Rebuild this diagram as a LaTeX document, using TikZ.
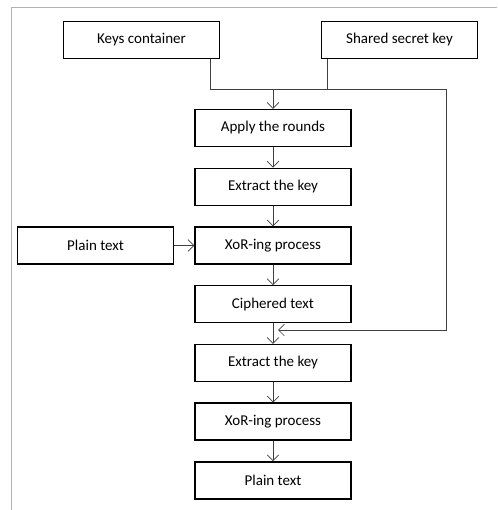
\documentclass[tikz,border=0pt]{standalone}
\usepackage{fontspec}
\setmainfont{Carlito}
\usepackage{tikz}
\usetikzlibrary{arrows.meta, positioning}
\usetikzlibrary{calc}

\begin{document}
\begin{tikzpicture}[>={Straight Barb[length=5pt,width=10pt]},
	blk/.style={draw, line width=1.2pt, minimum width=4.68cm, minimum height=1.11cm, inner sep=2pt, font=\fontsize{12.8}{15}\selectfont},
	lnk/.style={draw=black!75, line width=0.6pt}]
		\useasboundingbox (0,0) rectangle (14.91,-15.3);
		% page frame
		\draw[black!30, line width=0.7pt] (14.91,-0.21) -- (0.33,-0.21) -- (0.33,-15.3);

		\draw (4.245,-1.2) node[blk] (kc) {Keys container}
		(11.985,-1.2) node[blk] (sk) {Shared secret key}
		(8.19,-3.84) node[blk] (ar) {Apply the rounds};
		\node[blk, below=0.61cm of ar] (ek1) {Extract the key};
		\node[blk, below=0.61cm of ek1] (xo1) {XoR-ing process};
		\node[blk, left=0.6cm of xo1] (pt1) {Plain text};
		\node[blk, below=0.61cm of xo1] (ct) {Ciphered text};
		\node[blk, below=0.61cm of ct] (ek2) {Extract the key};
		\node[blk, below=0.61cm of ek2] (xo2) {XoR-ing process};
		\node[blk, below=0.61cm of xo2] (pt2) {Plain text};

		\coordinate (kd) at ($(kc.south east)+(-0.3,0)$);
		\coordinate (sd) at ($(sk.south west)+(0.21,0)$);
		\coordinate (rt) at (13.38,-2.67);
		\coordinate (bk) at (13.38,-9.9);
		\coordinate (mt) at (8.34,-9.9);

		\draw[lnk,->] (kd) |- (rt) -- (bk) -- (mt);
		\draw[lnk] (sd) -- (sd |- rt);
		\draw[lnk,->] (ar.north |- rt) -- (ar);
		\foreach \a/\b in {ar/ek1, ek1/xo1, xo1/ct, ct/ek2, ek2/xo2, xo2/pt2}
			\draw[lnk,->] (\a) -- (\b);
		\draw[lnk,->] (pt1) -- (xo1);
\end{tikzpicture}
\end{document}
